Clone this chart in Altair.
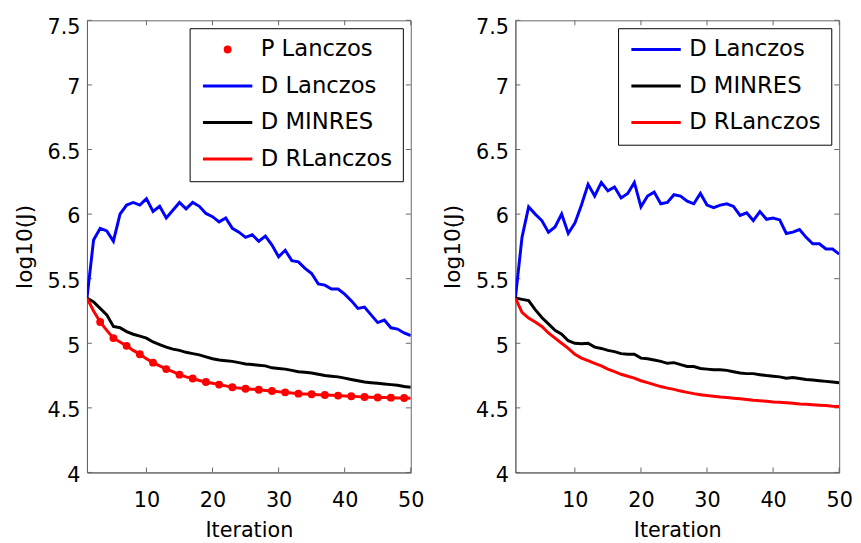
import altair as alt
import pandas as pd

iterations = list(range(1, 51))

left_d_lanczos = [5.35, 5.80, 5.89, 5.87, 5.79, 6.00, 6.07, 6.09, 6.07, 6.12,
                  6.02, 6.06, 5.97, 6.03, 6.09, 6.04, 6.09, 6.06, 6.005, 5.98,
                  5.94, 5.97, 5.89, 5.86, 5.82, 5.84, 5.79, 5.83, 5.76, 5.67,
                  5.72, 5.64, 5.63, 5.58, 5.54, 5.46, 5.45, 5.42, 5.42, 5.38,
                  5.33, 5.27, 5.28, 5.22, 5.16, 5.18, 5.12, 5.11, 5.08, 5.06]
left_d_minres = [5.35, 5.32, 5.27, 5.22, 5.13, 5.12, 5.09, 5.07, 5.055, 5.04,
                 5.01, 4.99, 4.97, 4.955, 4.945, 4.93, 4.92, 4.91, 4.895, 4.88,
                 4.87, 4.865, 4.86, 4.85, 4.84, 4.835, 4.83, 4.825, 4.81, 4.805,
                 4.80, 4.79, 4.78, 4.775, 4.77, 4.76, 4.75, 4.745, 4.74, 4.73,
                 4.72, 4.71, 4.70, 4.695, 4.69, 4.685, 4.68, 4.675, 4.665, 4.66]
left_d_rlanczos = [5.35, 5.25, 5.165, 5.10, 5.04, 5.01, 4.98, 4.945, 4.915, 4.88,
                   4.85, 4.825, 4.80, 4.78, 4.757, 4.74, 4.727, 4.712, 4.70, 4.69,
                   4.68, 4.67, 4.66, 4.653, 4.648, 4.644, 4.64, 4.635, 4.63, 4.625,
                   4.62, 4.615, 4.61, 4.607, 4.605, 4.602, 4.60, 4.597, 4.595, 4.592,
                   4.59, 4.587, 4.584, 4.582, 4.58, 4.58, 4.579, 4.577, 4.576, 4.575]
p_lanczos_iter = list(range(3, 50, 2))
p_lanczos = [5.165, 5.04, 4.98, 4.915, 4.85, 4.80, 4.757, 4.727, 4.70, 4.68,
             4.66, 4.648, 4.64, 4.63, 4.62, 4.61, 4.605, 4.60, 4.595, 4.59,
             4.584, 4.58, 4.579, 4.576]

right_d_lanczos = [5.35, 5.82, 6.056, 6.00, 5.95, 5.86, 5.90, 6.00, 5.85, 5.93,
                   6.07, 6.23, 6.14, 6.245, 6.18, 6.21, 6.125, 6.16, 6.245, 6.056,
                   6.14, 6.17, 6.08, 6.09, 6.15, 6.14, 6.10, 6.08, 6.16, 6.07,
                   6.05, 6.07, 6.08, 6.06, 5.99, 6.01, 5.95, 6.02, 5.96, 5.97,
                   5.955, 5.85, 5.86, 5.88, 5.82, 5.77, 5.77, 5.73, 5.73, 5.69]
right_d_minres = [5.35, 5.34, 5.33, 5.26, 5.20, 5.15, 5.10, 5.07, 5.02, 5.00,
                  4.997, 5.00, 4.97, 4.96, 4.945, 4.935, 4.92, 4.915, 4.915, 4.885,
                  4.88, 4.87, 4.86, 4.845, 4.85, 4.835, 4.82, 4.82, 4.805, 4.80,
                  4.795, 4.795, 4.79, 4.78, 4.77, 4.765, 4.765, 4.757, 4.75, 4.745,
                  4.74, 4.73, 4.735, 4.727, 4.72, 4.715, 4.71, 4.705, 4.70, 4.695]
right_d_rlanczos = [5.35, 5.24, 5.195, 5.165, 5.13, 5.08, 5.04, 5.00, 4.96, 4.915,
                    4.885, 4.865, 4.845, 4.825, 4.80, 4.78, 4.76, 4.745, 4.73, 4.71,
                    4.695, 4.68, 4.665, 4.653, 4.643, 4.63, 4.62, 4.61, 4.602, 4.595,
                    4.59, 4.584, 4.58, 4.575, 4.57, 4.565, 4.559, 4.555, 4.551, 4.546,
                    4.543, 4.54, 4.536, 4.53, 4.528, 4.524, 4.521, 4.518, 4.513, 4.51]

x_ticks = [10, 20, 30, 40, 50]
y_ticks = [4, 4.5, 5, 5.5, 6, 6.5, 7, 7.5]

FONT = "DejaVu Sans"
W, H = 328, 458
AX = "#666666"
LINE_SYM = "M-3,0H3"   # legend line symbol, 50px long at size 278
LINE_SIZE = 278


def panel(lines, dots, domain, colors):
    rows = []
    for name, vals in lines:
        for i, v in zip(iterations, vals):
            rows.append({"iter": i, "val": v, "series": name})
    ldf = pd.DataFrame(rows)

    xs = alt.Scale(domain=[1, 50], nice=False, zero=False)
    ys = alt.Scale(domain=[4, 7.5], nice=False, zero=False)
    legend = alt.Legend(
        title=None, orient="top-right", offset=8, padding=10,
        strokeColor="black", fillColor="white", cornerRadius=0,
        labelFont=FONT, labelFontSize=23, labelColor="black", labelLimit=0,
        labelOffset=22, symbolOffset=17, rowPadding=13,
        symbolType=LINE_SYM, symbolSize=LINE_SIZE,
        symbolStrokeWidth=3, symbolOpacity=1,
    )
    xaxis = alt.Axis(values=x_ticks, title="Iteration", ticks=False, grid=False,
                     labelFlush=False, labelOverlap=False, labelPadding=18, titlePadding=9,
                     labelFontSize=21, titleFontSize=21)
    yaxis = alt.Axis(values=y_ticks, format="~g", title="log10(J)", ticks=False, grid=False,
                     labelFlush=False, labelOverlap=False, labelPadding=7, titlePadding=11,
                     labelFontSize=21, titleFontSize=22, labelBaseline="middle",
                     labelOffset={"condition": {"test": "datum.value === 7.5", "value": 7},
                                  "value": 3})

    stroke = alt.Stroke("series:N", scale=alt.Scale(domain=domain, range=colors), legend=legend)

    layers = []
    if dots is not None:
        name, its, vals = dots
        ddf = pd.DataFrame({"iter": its, "val": vals, "series": [name] * len(its)})
        fills = [colors[k] if domain[k] == name else "transparent" for k in range(len(domain))]
        shapes = ["circle" if d == name else LINE_SYM for d in domain]
        sizes = [25 if d == name else LINE_SIZE for d in domain]
        layers.append(alt.Chart(ddf).mark_point(filled=True, opacity=1, strokeWidth=3).encode(
            x=alt.X("iter:Q", scale=xs, axis=xaxis),
            y=alt.Y("val:Q", scale=ys, axis=yaxis),
            fill=alt.Fill("series:N", scale=alt.Scale(domain=domain, range=fills), legend=legend),
            stroke=stroke,
            shape=alt.Shape("series:N", scale=alt.Scale(domain=domain, range=shapes), legend=legend),
            size=alt.Size("series:N", scale=alt.Scale(type="ordinal", domain=domain, range=sizes),
                          legend=legend),
        ))
    layers.append(alt.Chart(ldf).mark_line(strokeWidth=3, clip=True).encode(
        x=alt.X("iter:Q", scale=xs, axis=xaxis),
        y=alt.Y("val:Q", scale=ys, axis=yaxis),
        stroke=stroke,
    ))

    xt = pd.DataFrame({"iter": x_ticks})
    yt = pd.DataFrame({"val": y_ticks})
    tick_bottom = alt.Chart(xt).mark_rule(color=AX).encode(
        x=alt.X("iter:Q", scale=xs, axis=xaxis), y=alt.value(H), y2=alt.value(H - 5))
    tick_top = alt.Chart(xt).mark_rule(color=AX).encode(
        x=alt.X("iter:Q", scale=xs, axis=xaxis), y=alt.value(0), y2=alt.value(5))
    tick_left = alt.Chart(yt).mark_rule(color=AX).encode(
        y=alt.Y("val:Q", scale=ys, axis=yaxis), x=alt.value(0), x2=alt.value(5))
    tick_right = alt.Chart(yt).mark_rule(color=AX).encode(
        y=alt.Y("val:Q", scale=ys, axis=yaxis), x=alt.value(W), x2=alt.value(W - 5))

    return alt.layer(tick_bottom, tick_top, tick_left, tick_right, *layers).properties(
        width=W, height=H)


left = panel(
    [("D Lanczos", left_d_lanczos), ("D MINRES", left_d_minres), ("D RLanczos", left_d_rlanczos)],
    ("P Lanczos", p_lanczos_iter, p_lanczos),
    ["P Lanczos", "D Lanczos", "D MINRES", "D RLanczos"],
    ["#ff0000", "#0000ff", "#000000", "#ff0000"],
)
right = panel(
    [("D Lanczos", right_d_lanczos), ("D MINRES", right_d_minres), ("D RLanczos", right_d_rlanczos)],
    None,
    ["D Lanczos", "D MINRES", "D RLanczos"],
    ["#0000ff", "#000000", "#ff0000"],
)

chart = alt.hconcat(left, right, spacing=17).resolve_scale(
    stroke="independent", fill="independent", shape="independent", size="independent"
).resolve_legend(
    stroke="independent", fill="independent", shape="independent", size="independent"
).configure(
    padding={"left": 5, "top": 4, "right": 0, "bottom": 0},
    background="white",
).configure_view(
    stroke=AX, strokeWidth=1
).configure_axis(
    domainColor=AX, labelFont=FONT, labelColor="black",
    titleFont=FONT, titleFontWeight="normal", titleColor="black",
)

chart.save("out.html", embed_options={"renderer": "svg", "actions": False})
